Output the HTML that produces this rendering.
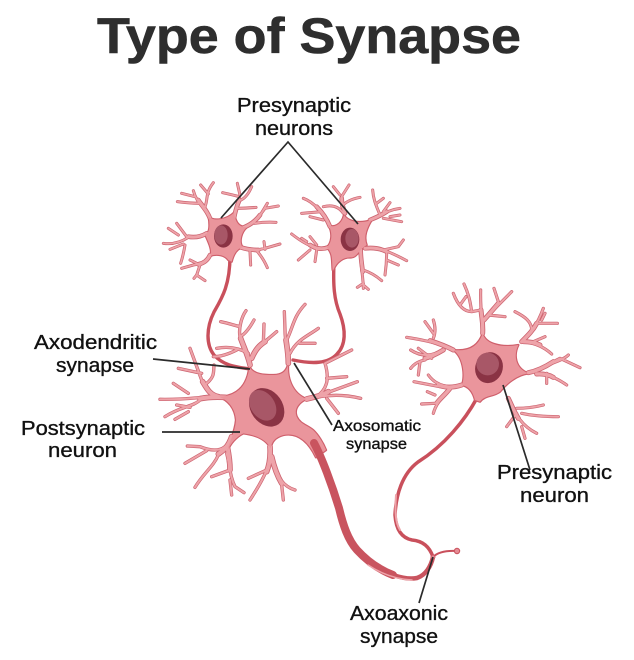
<!DOCTYPE html>
<html><head><meta charset="utf-8"><style>
html,body{margin:0;padding:0;background:#fff}
svg{display:block}
text{font-family:"Liberation Sans",sans-serif;fill:#111;stroke:#111;stroke-width:.35;text-anchor:start}
.t{font-weight:bold;font-size:50px;fill:#2e2e2e;stroke:#2e2e2e;stroke-width:.6}
.f{fill:none;stroke-linecap:round;stroke-linejoin:round}
.dk{stroke:#cc6470}.lt{stroke:#eea3a9}
.s{fill:#ea959c;stroke:none}.so{fill:#ea959c;stroke:#cf5f6b;stroke-width:7;stroke-linejoin:round}
.c{stroke:#2b2b2b;stroke-width:1.7;fill:none}
</style></head><body>
<svg width="634" height="660" viewBox="0 0 634 660" xmlns="http://www.w3.org/2000/svg">
<defs>
<path id="a1" d="M180 145C165 115 140 100 130 62M150 100Q120 100 82 95M135 80Q115 75 95 70M165 110C175 85 165 70 190 38M175 72L152 45M252 145C255 120 265 100 270 75L262 40M268 80Q250 75 218 68M258 115Q290 115 318 112M268 92Q290 85 305 50M275 175C300 165 320 150 345 115L385 108M325 145L352 100M315 160Q345 155 378 157M272 232Q310 245 345 235L390 222M345 238L342 215M320 242Q340 265 352 293M300 245L302 285M170 190Q140 205 110 200L80 160M115 202Q80 225 40 220M85 195L55 175M100 222L60 238M105 225Q100 255 92 280M180 255Q170 280 130 285L95 295M150 285L120 270M150 285L140 315L165 332M140 315L132 325"/>
<path id="a1t" d="M180 145C170 120 155 105 145 90M252 145C255 125 262 105 268 90M275 175C300 165 315 155 330 135M272 232Q295 240 325 240M170 190Q145 205 115 200M180 255Q170 278 145 283"/>
<path id="a2" d="M585 130C575 100 570 85 578 75L597 45M580 130Q560 100 520 110M575 110Q590 90 630 82M570 75L550 50M540 170C525 140 500 100 460 85M515 125L455 130M520 150L480 140M660 150C690 140 710 120 750 115M690 135C680 110 670 90 668 60M700 125L720 98M700 145L755 155M720 140L750 135M680 100L700 85M535 232C510 240 480 235 425 192M480 200L500 225M480 240L445 270M500 240L495 275M470 215L455 205M645 235C680 230 710 240 770 272M700 240L745 230L760 210M710 245Q710 280 705 315M710 270L745 285M632 240C630 280 640 320 640 355M640 300Q670 310 695 332M640 340L622 352M640 345L655 358"/>
<path id="a2t" d="M585 130C578 110 575 95 575 85M540 170C530 145 515 125 500 110M660 150C680 142 695 135 710 125M535 232C515 240 495 235 480 225M645 235C670 232 690 235 710 245M632 240C632 265 636 285 638 305"/>
<path id="b" d="M300 195C295 170 285 150 270 110C265 85 275 50 288 32M270 80C250 75 235 70 212 65M270 110Q290 100 312 60M295 160Q250 135 200 145M260 150Q220 170 190 170M305 175C320 140 340 130 380 95M340 130L342 72M415 190C415 160 405 130 405 90L403 35M410 120C430 80 430 50 465 13M420 160C440 120 470 110 505 85M450 130L495 130M497 292C530 270 540 240 525 190L605 150M530 235L590 230M510 290Q570 280 632 295M540 275L622 245M530 295L565 340M205 290C180 285 170 265 155 240L120 145M155 220L85 205M170 250C195 230 190 215 192 195M225 292C170 285 130 300 30 298M115 280L70 250M150 300C130 320 90 320 45 350M120 322L80 315M115 335L75 358M245 410C230 450 200 460 150 440L112 438M170 452L105 490M205 465C190 500 160 520 135 562M230 460C240 500 240 530 255 560L282 578M240 510L185 530M240 540L245 585M360 440C365 490 345 530 300 600M350 510L295 535M365 480C380 530 400 560 435 570M395 555L400 600"/>
<path id="bt" d="M300 195C295 170 285 150 272 115M305 175C318 145 330 135 345 125M415 190C415 160 410 135 408 120M470 297C500 290 520 285 535 275M225 292C190 290 170 292 150 296M205 290C180 285 170 265 158 245M245 410C235 440 220 452 205 462M232 440C238 470 240 490 240 510M360 440C362 470 358 495 350 515M365 470C372 500 380 525 395 550"/>
<path id="c" d="M278 160C280 130 270 100 272 30M272 90L245 95C240 60 235 40 222 12M245 95C225 95 205 80 190 40M210 75L228 50M282 120C310 90 330 70 365 35M325 65L312 25M295 105L345 110M395 185C420 160 440 140 460 85M425 150C425 125 405 110 375 95M440 130Q470 130 502 130M455 120L465 100M400 185Q450 190 485 222M430 185L465 170M415 278C450 270 480 250 510 235L570 263M470 255Q520 240 535 225M440 282Q480 280 530 315M470 280L470 310M355 355C370 380 380 430 440 460M380 385Q420 385 460 375M395 400Q440 410 505 410M380 400L350 440M395 440L405 475M190 210C160 195 130 185 50 172M130 175Q140 150 130 120M105 125L130 160M160 210C130 225 100 235 62 210M125 235L85 205M105 240C80 245 70 255 62 265M90 245L85 285M215 315C180 325 140 320 115 285M150 320L72 305M180 325C160 350 140 365 130 400M135 370L95 372M135 345L112 335"/>
<path id="ct" d="M278 160C280 130 275 115 273 90M282 120C300 100 312 85 325 70M395 185C415 165 430 150 440 130M400 185Q430 185 450 195M415 278C445 272 470 258 490 245M440 282Q470 280 490 292M355 355C365 375 372 395 385 415M190 210C165 197 145 190 120 182M160 210C140 222 125 230 105 235M215 315C185 325 160 322 145 315M180 325C165 345 150 355 140 370"/>
<path id="bs" d="M298 200C310 225 345 225 370 225C395 225 410 215 415 190C410 230 425 280 470 297C450 305 430 325 440 350C450 372 470 375 489 390C505 405 520 430 528 450L498 472C480 435 450 395 400 405C375 412 365 425 362 445C350 420 320 405 280 400C260 410 240 430 232 455C235 430 255 400 258 360C255 325 235 300 205 290C235 290 290 280 298 200Z"/>
</defs>
<text class="t" x="97" y="53" textLength="424" lengthAdjust="spacingAndGlyphs">Type of Synapse</text>

<!-- axons -->
<g class="f">
<path d="M230 256C230 285 222 298 214 312C206 328 206 345 214 355C224 366 236 367 250 369" stroke="#c9505c" stroke-width="3.4"/>
<path d="M334 262C333 285 334 300 340 314C346 330 346 345 337 354C328 364 312 364 293 360" stroke="#c9505c" stroke-width="3.4"/>
<path d="M477 398C465 420 445 445 418 462C402 474 396 495 395 515C396 530 402 538 412 540C424 541 430 548 433 557" stroke="#c9505c" stroke-width="3.5"/>
<path d="M396 495C395 510 395 522 400 530" stroke="#eea3a9" stroke-width="2"/>
<path d="M433 557Q440 550 457 551" stroke="#c9505c" stroke-width="2"/>
</g>
<circle cx="457" cy="551" r="2.7" fill="#e58c94" stroke="#c9505c"/>

<!-- top-left neuron -->
<g transform="translate(150 170) scale(.33333)">
<g class="f dk" stroke-width="9"><use href="#a1"/></g>
<g class="f dk" stroke-width="14"><use href="#a1t"/></g>
<path class="so" d="M176 140C190 155 230 150 252 128C258 165 270 170 290 172C275 185 265 215 278 232C260 235 250 255 245 275L235 270C225 255 200 250 180 258C190 245 175 215 165 193C180 190 180 165 176 140Z"/>
<g class="f lt" stroke-width="5"><use href="#a1"/></g>
<g class="f lt" stroke-width="9"><use href="#a1t"/></g>
<path class="s" d="M176 140C190 155 230 150 252 128C258 165 270 170 290 172C275 185 265 215 278 232C260 235 250 255 245 275L235 270C225 255 200 250 180 258C190 245 175 215 165 193C180 190 180 165 176 140Z"/>
<ellipse cx="220" cy="198" rx="28" ry="35" fill="#8a3344"/><ellipse cx="213" cy="195" rx="20" ry="29" fill="#a85767"/>
</g>
<!-- top-right neuron -->
<g transform="translate(150 170) scale(.33333)">
<g class="f dk" stroke-width="9"><use href="#a2"/></g>
<g class="f dk" stroke-width="14"><use href="#a2t"/></g>
<path class="so" d="M535 165C550 175 575 165 582 135C590 150 620 165 665 150C650 175 640 200 650 225C625 240 620 265 600 262C580 262 560 275 550 300L548 300C545 270 550 250 530 232C545 220 550 190 535 165Z"/>
<g class="f lt" stroke-width="5"><use href="#a2"/></g>
<g class="f lt" stroke-width="9"><use href="#a2t"/></g>
<path class="s" d="M535 165C550 175 575 165 582 135C590 150 620 165 665 150C650 175 640 200 650 225C625 240 620 265 600 262C580 262 560 275 550 300L548 300C545 270 550 250 530 232C545 220 550 190 535 165Z"/>
<ellipse cx="600" cy="208" rx="28" ry="35" fill="#8a3344"/><ellipse cx="606" cy="205" rx="20" ry="28" fill="#a85767"/>
</g>
<!-- big neuron -->
<g transform="translate(150 300) scale(.33333)">
<g class="f dk" stroke-width="10"><use href="#b"/></g>
<g class="f dk" stroke-width="17"><use href="#bt"/></g>
<g class="so" stroke-width="8"><use href="#bs"/></g>
<g class="f lt" stroke-width="6"><use href="#b"/></g>
<g class="f lt" stroke-width="12"><use href="#bt"/></g>
<g class="s"><use href="#bs"/></g>
<ellipse cx="350" cy="322" rx="48" ry="62" fill="#8a3344" transform="rotate(-35 350 322)"/>
<ellipse cx="338" cy="316" rx="36" ry="50" fill="#a85767" transform="rotate(-35 338 316)"/>
</g>
<!-- big axon, over soma tail -->
<g class="f">
<path d="M314 443C322 458 332 485 339 508C343 525 348 540 357 550C368 562 380 570 393 575" stroke="#c9545f" stroke-width="8"/>
<path d="M393 575C405 579 412 579 417 578C426 575 431 566 433 557" stroke="#c9545f" stroke-width="4.5"/>
<path d="M368 565C380 573 395 579 412 580" stroke="#eea3a9" stroke-width="1.5"/>
</g>
<circle cx="433" cy="557" r="2" fill="#e58c94" stroke="#c9505c" stroke-width=".8"/>
<!-- right neuron -->
<g transform="translate(390 280) scale(.33333)">
<g class="f dk" stroke-width="9.5"><use href="#c"/></g>
<g class="f dk" stroke-width="15"><use href="#ct"/></g>
<path class="so" d="M278 160C285 190 330 205 385 195C370 225 375 265 415 280C380 285 350 310 330 335C310 350 285 345 270 365L255 360C250 340 240 320 215 315C225 300 225 235 190 210C235 215 265 200 278 160Z"/>
<g class="f lt" stroke-width="5.5"><use href="#c"/></g>
<g class="f lt" stroke-width="10"><use href="#ct"/></g>
<path class="s" d="M278 160C285 190 330 205 385 195C370 225 375 265 415 280C380 285 350 310 330 335C310 350 285 345 270 365L255 360C250 340 240 320 215 315C225 300 225 235 190 210C235 215 265 200 278 160Z"/>
<ellipse cx="297" cy="263" rx="41" ry="47" fill="#8a3344" transform="rotate(20 297 263)"/>
<ellipse cx="293" cy="252" rx="34" ry="34" fill="#a85767"/>
</g>

<!-- leader lines -->
<path class="c" d="M221 218L288 142L358 224M153 359L250 369M162 432H240M294 363L332 425M503 385L530 470M433 557L419 603"/>

<g font-size="20">
<text x="237" y="112" textLength="114" lengthAdjust="spacingAndGlyphs">Presynaptic</text>
<text x="255" y="135" textLength="78" lengthAdjust="spacingAndGlyphs">neurons</text>
<text x="34" y="349" textLength="123" lengthAdjust="spacingAndGlyphs">Axodendritic</text>
<text x="56" y="372" textLength="78" lengthAdjust="spacingAndGlyphs">synapse</text>
<text x="21" y="435" textLength="124" lengthAdjust="spacingAndGlyphs">Postsynaptic</text>
<text x="48" y="457" textLength="69" lengthAdjust="spacingAndGlyphs">neuron</text>
<text x="497" y="479" textLength="115" lengthAdjust="spacingAndGlyphs">Presynaptic</text>
<text x="520" y="502" textLength="69" lengthAdjust="spacingAndGlyphs">neuron</text>
<text x="350" y="620" textLength="98" lengthAdjust="spacingAndGlyphs">Axoaxonic</text>
<text x="360" y="643" textLength="78" lengthAdjust="spacingAndGlyphs">synapse</text>
</g>
<g font-size="15.5">
<text x="333" y="431" textLength="88" lengthAdjust="spacingAndGlyphs">Axosomatic</text>
<text x="346" y="449" textLength="61" lengthAdjust="spacingAndGlyphs">synapse</text>
</g>
</svg>
</body></html>
